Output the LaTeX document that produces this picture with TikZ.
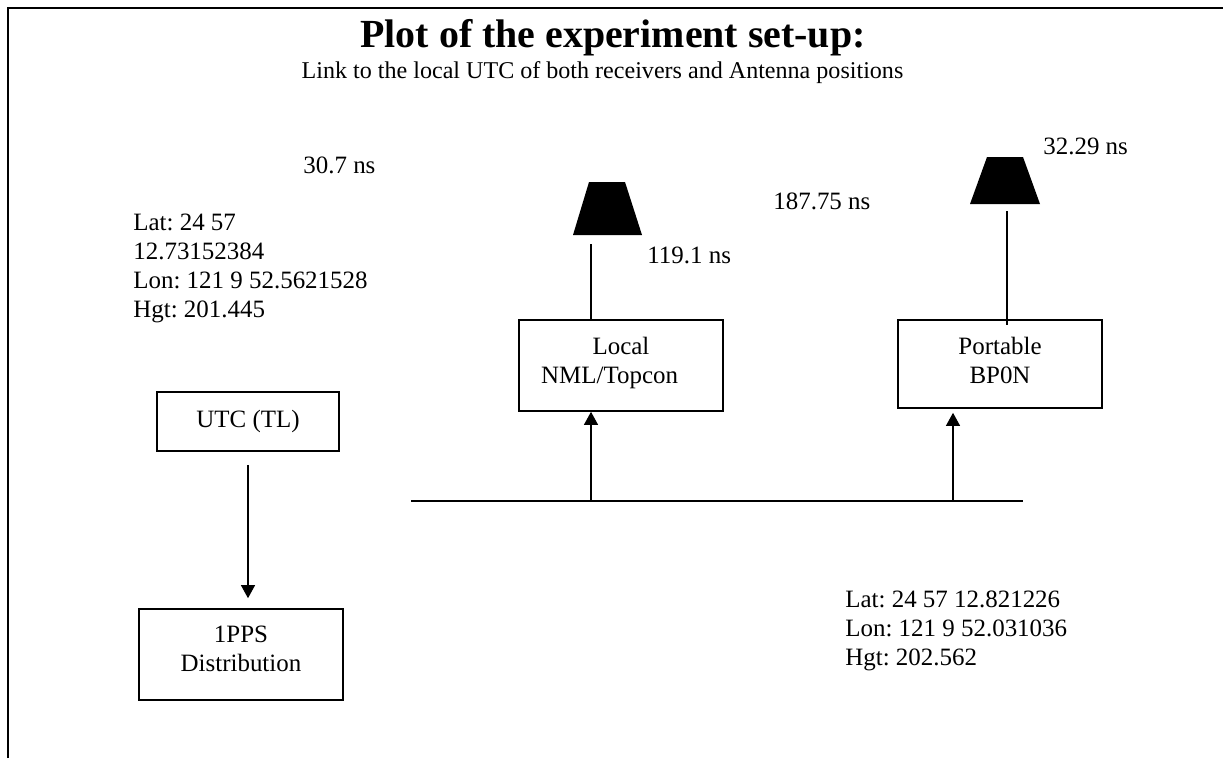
\documentclass[tikz,border=0pt]{standalone}
\usepackage{fontspec}
\setmainfont{Liberation Serif}
\usetikzlibrary{arrows.meta,calc,positioning}
\newcommand{\txtfont}{\frenchspacing\fontsize{14.2}{16.5}\selectfont}
\tikzset{
  lbl/.style={inner sep=0pt,align=left,anchor=base west,font=\txtfont},
  unit/.style={draw,line width=0.9pt,align=center,inner sep=0pt,font=\txtfont,text depth=0.214cm},
  antenna/.style={fill=black,draw=none},
  wire/.style={line width=0.8pt}
}
\begin{document}
\begin{tikzpicture}
[x=0.02cm,y=-0.02cm,>={Triangle[length=7.5pt,width=8pt]}]
\useasboundingbox (0,0) rectangle (1223,758);
\node[inner sep=0pt,anchor=base] (title) at (613,47) {\fontsize{22.7}{24}\selectfont\bfseries Plot of the experiment set-up:};
\node[inner sep=0pt,anchor=base] (subtitle) at (602.5,78) {\frenchspacing\fontsize{13.7}{16}\selectfont Link to the local UTC of both receivers and Antenna positions};
% boxes
\node[unit,minimum width=204*0.02cm,minimum height=91*0.02cm] (local) at (621,365.5) {Local\\NML/Topcon\rule{13pt}{0pt}};
\node[unit,minimum width=204*0.02cm,minimum height=88*0.02cm,text depth=0.154cm] (portable) at (1000,364) {Portable\\BP0N};
\node[unit,minimum width=182*0.02cm,minimum height=59*0.02cm,text depth=0.1cm] (utc) at (248,421.5) {UTC (TL)};
\node[unit,minimum width=204*0.02cm,minimum height=91*0.02cm] (pps) at (241,654.5) {1PPS\\Distribution};
% antennas
\fill[antenna] (589,182) -- (625,182) -- (642,235) -- (573,235) -- cycle;
\fill[antenna] (987,157) -- (1023,157) -- (1040,204) -- (970,204) -- cycle;
\coordinate (feed1) at (591,244);
\coordinate (feed2) at (1007,211);
\draw[wire] (feed1) -- (feed1 |- local.north);
\draw[wire,shorten >=-0.12cm] (feed2) -- (feed2 |- portable.north);
% bus
\coordinate (busl) at (411,501);
\coordinate (busr) at (1023,501);
\coordinate (tap1) at (591,501);
\coordinate (tap2) at (953,501);
\draw[wire] (busl) -- (busr);
\draw[wire,->] (tap1) -- (tap1 |- local.south);
\draw[wire,->] (tap2) -- ($(tap2 |- portable.south)+(0,4)$);
\draw[wire,->,shorten <=0.26cm,shorten >=0.2cm] (utc.south) -- (utc.south |- pps.north);
% frame
\coordinate (frame0) at (8,758);
\coordinate (frame1) at (8,8);
\coordinate (frame2) at (1223,8);
\draw[line width=1.2pt] (frame0) -- (frame1) -- (frame2);
% labels
\node[lbl] (d1) at (303,173) {30.7 ns};
\node[lbl] (d2) at (647,263) {119.1 ns};
\node[lbl] (d3) at (773,209) {187.75 ns};
\node[lbl] (d4) at (1043,154) {32.29 ns};
\node[lbl] (pos1) at (133,317) {Lat: 24 57\\12.73152384\\Lon: 121 9 52.5621528\\Hgt: 201.445};
\node[lbl] (pos2) at (845,665) {Lat: 24 57 12.821226\\Lon: 121 9 52.031036\\Hgt: 202.562};
\end{tikzpicture}
\end{document}
